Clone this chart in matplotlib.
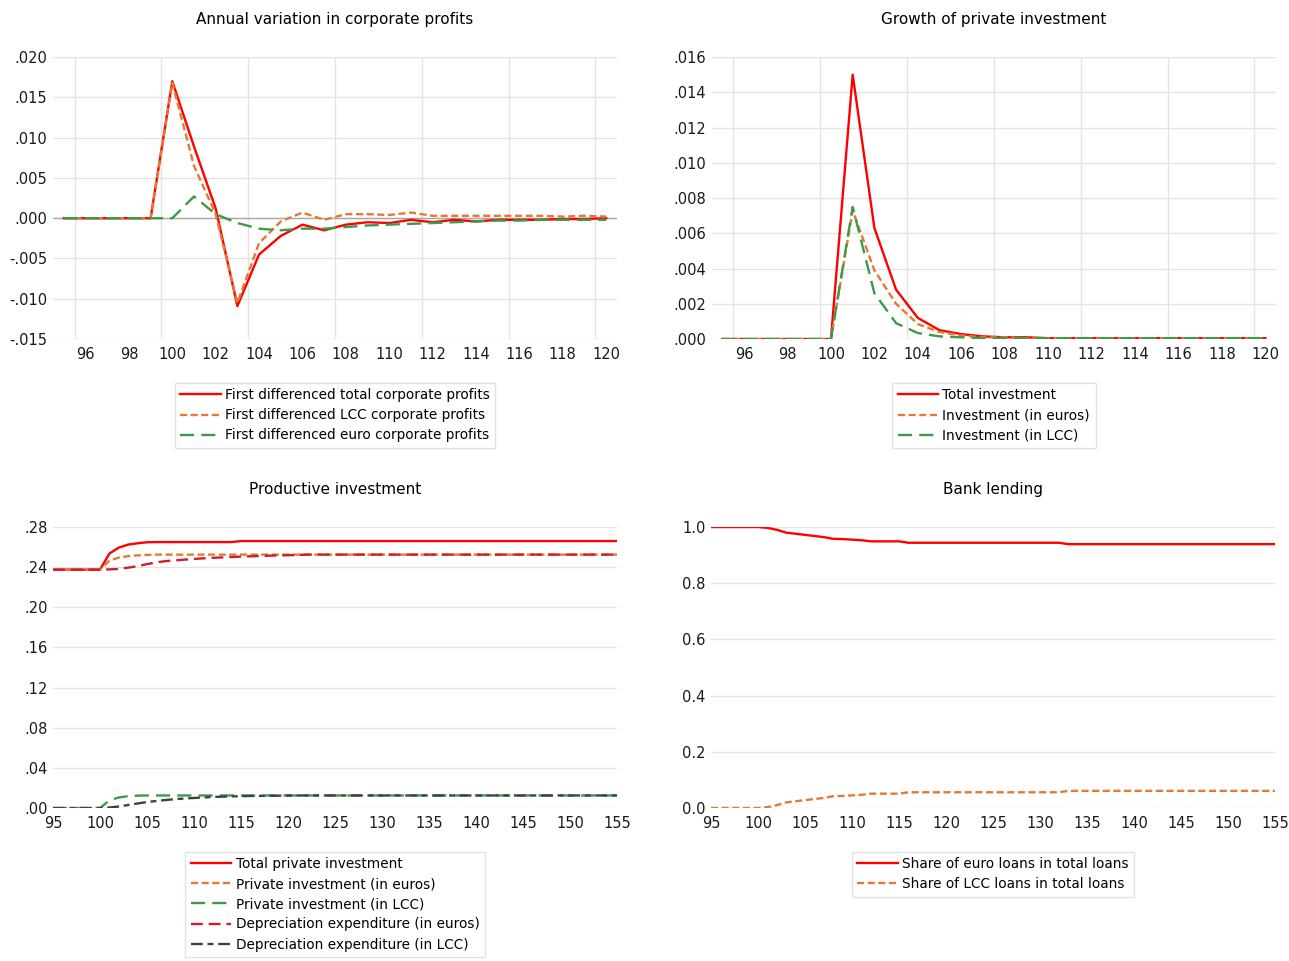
import matplotlib
matplotlib.use("Agg")
import matplotlib.pyplot as plt
from matplotlib.ticker import FixedLocator, FuncFormatter

plt.rcParams['font.family'] = ['DejaVu Sans']

# ---- data: years 95..120 for the top panels
years_short = list(range(95, 121))

profit_total = [0, 0, 0, 0, 0,
                0.0170, 0.0089, 0.0012, -0.0109, -0.0045, -0.0022, -0.0008, -0.0015,
                -0.0008, -0.0005, -0.0006, -0.0002, -0.0005, -0.0002, -0.0004, -0.0002,
                -0.0002, -0.0002, -0.0001, -0.0001, 0.0]
profit_lcc = [0, 0, 0, 0, 0,
              0.0168, 0.0065, 0.0005, -0.0105, -0.0031, -0.0004, 0.0007, -0.0002,
              0.0005, 0.0005, 0.0004, 0.0007, 0.0003, 0.0003, 0.0003, 0.0003,
              0.0003, 0.0003, 0.0002, 0.0003, 0.0002]
profit_euro = [0, 0, 0, 0, 0, 0,
               0.0027, 0.0005, -0.0006, -0.0013, -0.0015, -0.0013, -0.0013, -0.0011,
               -0.0009, -0.0008, -0.0007, -0.0006, -0.0005, -0.0004, -0.0003,
               -0.0003, -0.0002, -0.0002, -0.0002, -0.0002]

inv_growth_total = [0, 0, 0, 0, 0, 0,
                    0.0150, 0.0063, 0.0028, 0.0012, 0.0005, 0.00028, 0.00015, 0.0001, 0.0001,
                    0.00005, 0.00005, 0.00005, 0.00005, 0.00005, 0.00005,
                    0.00005, 0.00005, 0.00005, 0.00005, 0.00005]
inv_growth_euro = [0, 0, 0, 0, 0, 0,
                   0.0073, 0.0039, 0.0020, 0.00085, 0.0004, 0.0002, 0.0001, 0.0001, 0.00005,
                   0.00005, 0.00005, 0.00005, 0.00005, 0.00005, 0.00005,
                   0.00005, 0.00005, 0.00005, 0.00005, 0.00005]
inv_growth_lcc = [0, 0, 0, 0, 0, 0,
                  0.0075, 0.0026, 0.0009, 0.00034, 0.00015, 0.0001, 0.00005, 0.00005, 0.00005,
                  0.00005, 0.00005, 0.00005, 0.00005, 0.00005, 0.00005,
                  0.00005, 0.00005, 0.00005, 0.00005, 0.00005]

# ---- data: years 95..155 for the bottom panels
years_long = list(range(95, 156))

total_private_inv = ([0.2375] * 6 + [0.2535, 0.2595, 0.2625, 0.2638, 0.2648]
                     + [0.2650] * 9 + [0.2660] * 41)
private_inv_euro = [0.2375] * 6 + [0.2465, 0.2495, 0.2510, 0.2518, 0.2522] + [0.2525] * 50
private_inv_lcc = [0.0] * 6 + [0.0075, 0.0105, 0.0118, 0.0123, 0.0125] + [0.0125] * 50
deprec_euro = ([0.2375] * 6
               + [0.2378, 0.2382, 0.2395, 0.2410, 0.2430, 0.2448, 0.2460, 0.2468, 0.2475,
                  0.2482, 0.2488, 0.2493, 0.2497, 0.2501, 0.2505, 0.2508, 0.2511, 0.2514,
                  0.2517, 0.2519, 0.2521]
               + [0.2525] * 34)
deprec_lcc = ([0.0] * 6
              + [0.0005, 0.0015, 0.0030, 0.0045, 0.0060, 0.0070, 0.0080, 0.0088, 0.0095,
                 0.0100, 0.0105, 0.0110, 0.0113, 0.0116, 0.0118, 0.0120, 0.0121, 0.0122,
                 0.0123, 0.0124, 0.0125]
              + [0.0125] * 34)

euro_loan_share = ([1.0] * 6
                   + [0.997, 0.990, 0.980, 0.976, 0.972, 0.968, 0.964, 0.958, 0.957, 0.955,
                      0.953, 0.949, 0.949, 0.949, 0.949]
                   + [0.944] * 17 + [0.939] * 23)
lcc_loan_share = ([0.0] * 6
                  + [0.003, 0.010, 0.020, 0.024, 0.028, 0.032, 0.036, 0.042, 0.043, 0.045,
                     0.047, 0.051, 0.051, 0.051, 0.051]
                  + [0.056] * 17 + [0.061] * 23)

RED = '#ff0000'
ORANGE = '#e27a34'
GREEN = '#3c9a4a'
DARKRED = '#cc1f2a'
GRAY = '#404040'
GRID = '#e4e4e4'

SHORT_DASH = (0, (3, 1.5))
LONG_DASH = (0, (6, 3))


def dot_fmt(digits):
    # EViews style: drop the leading zero, e.g. .020 / -.015
    def f(v, pos):
        s = f"{v:.{digits}f}"
        return s.replace("0.", ".", 1) if abs(v) < 1 else s
    return f


def style_axes(ax, xlim, ylim, yticks, xticks, xgrid, fmt):
    ax.set_xlim(*xlim)
    ax.set_ylim(*ylim)
    for sp in ax.spines.values():
        sp.set_visible(False)
    ax.yaxis.set_major_locator(FixedLocator(yticks))
    ax.yaxis.set_major_formatter(FuncFormatter(fmt))
    ax.xaxis.set_major_locator(FixedLocator(xticks))
    ax.xaxis.set_minor_locator(FixedLocator(xgrid))
    ax.tick_params(which='both', length=0, labelsize=10.5, colors='#1a1a1a')
    ax.tick_params(axis='x', pad=6)
    ax.tick_params(axis='y', pad=4)
    ax.grid(axis='y', which='major', color=GRID, lw=1)
    ax.grid(axis='x', which='minor', color=GRID, lw=1)
    ax.set_axisbelow(True)


def add_legend(ax, y):
    leg = ax.legend(loc='upper center', bbox_to_anchor=(0.5, y), fontsize=9.8,
                    frameon=True, fancybox=False, edgecolor='#dddddd',
                    handlelength=3.0, handletextpad=0.3, labelspacing=0.45,
                    borderpad=0.4, borderaxespad=0)
    leg.get_frame().set_linewidth(1)
    return leg


fig = plt.figure(figsize=(12.89, 9.61), dpi=100)

# top-left: corporate profits
ax1 = fig.add_axes([0.0411, 0.6472, 0.4376, 0.2934])
style_axes(ax1, (94.5, 120.5), (-0.015, 0.020),
           [-0.015, -0.010, -0.005, 0, 0.005, 0.010, 0.015, 0.020],
           list(range(96, 121, 2)), [95.5 + 4 * k for k in range(7)], dot_fmt(3))
ax1.axhline(0, color='#a8a8a8', lw=1, zorder=1)
ax1.plot(years_short, profit_total, color=RED, lw=1.7, label='First differenced total corporate profits')
ax1.plot(years_short, profit_lcc, color=ORANGE, lw=1.7, ls=SHORT_DASH, label='First differenced LCC corporate profits')
ax1.plot(years_short, profit_euro, color=GREEN, lw=1.7, ls=LONG_DASH, label='First differenced euro corporate profits')
ax1.set_title('Annual variation in corporate profits', fontsize=11, pad=24)
add_legend(ax1, -0.155)

# top-right: private investment growth
ax2 = fig.add_axes([0.552, 0.6472, 0.438, 0.2934])
style_axes(ax2, (94.5, 120.5), (0, 0.016),
           [0, 0.002, 0.004, 0.006, 0.008, 0.010, 0.012, 0.014, 0.016],
           list(range(96, 121, 2)), [95.5 + 4 * k for k in range(7)], dot_fmt(3))
ax2.plot(years_short, inv_growth_total, color=RED, lw=1.7, label='Total investment')
ax2.plot(years_short, inv_growth_euro, color=ORANGE, lw=1.7, ls=SHORT_DASH, label='Investment (in euros)')
ax2.plot(years_short, inv_growth_lcc, color=GREEN, lw=1.7, ls=LONG_DASH, label='Investment (in LCC)')
ax2.set_title('Growth of private investment', fontsize=11, pad=24)
add_legend(ax2, -0.155)

# bottom-left: productive investment
ax3 = fig.add_axes([0.0411, 0.1592, 0.4376, 0.2924])
style_axes(ax3, (95, 155), (0, 0.28),
           [0, 0.04, 0.08, 0.12, 0.16, 0.20, 0.24, 0.28],
           list(range(95, 156, 5)), list(range(100, 151, 10)), dot_fmt(2))
ax3.plot(years_long, total_private_inv, color=RED, lw=1.7, label='Total private investment')
ax3.plot(years_long, private_inv_euro, color=ORANGE, lw=1.7, ls=SHORT_DASH, label='Private investment (in euros)')
ax3.plot(years_long, private_inv_lcc, color=GREEN, lw=1.7, ls=LONG_DASH, label='Private investment (in LCC)')
ax3.plot(years_long, deprec_euro, color=DARKRED, lw=1.7, ls=(0, (5, 2.5)), label='Depreciation expenditure (in euros)')
ax3.plot(years_long, deprec_lcc, color=GRAY, lw=1.7, ls=(0, (5, 2, 2.5, 2)), label='Depreciation expenditure (in LCC)')
ax3.set_title('Productive investment', fontsize=11, pad=24)
add_legend(ax3, -0.155)

# bottom-right: bank lending
ax4 = fig.add_axes([0.5516, 0.1592, 0.4376, 0.2924])
style_axes(ax4, (95, 155), (0, 1.0),
           [0, 0.2, 0.4, 0.6, 0.8, 1.0],
           list(range(95, 156, 5)), list(range(100, 151, 10)), lambda v, p: f"{v:.1f}")
ax4.plot(years_long, euro_loan_share, color=RED, lw=1.7, label='Share of euro loans in total loans')
ax4.plot(years_long, lcc_loan_share, color=ORANGE, lw=1.7, ls=SHORT_DASH, label='Share of LCC loans in total loans')
ax4.set_title('Bank lending', fontsize=11, pad=24)
add_legend(ax4, -0.155)

fig.savefig('out.png', dpi=100)
